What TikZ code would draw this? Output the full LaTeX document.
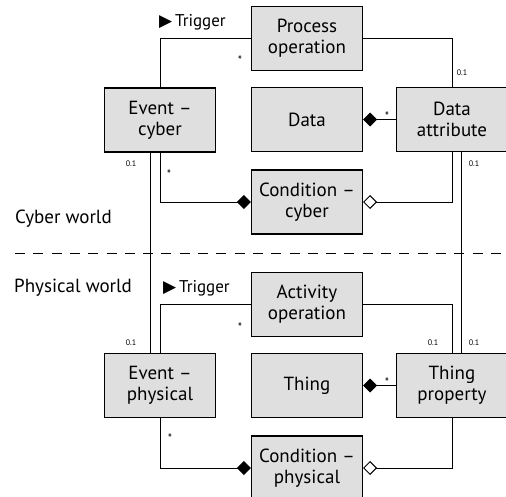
\documentclass[tikz,border=0pt]{standalone}
\usepackage{fontspec}
\setmainfont{PT Sans}
\newfontfamily\symfont{DejaVu Sans}
\usetikzlibrary{arrows.meta}

\begin{document}
\begin{tikzpicture}[x=1pt, y=-1pt, every node/.style={align=center}]
  % Define colors and styles
  \colorlet{classfill}{gray!25}
  \tikzset{
    classbox/.style={draw, line width=1.1pt, fill=classfill, minimum width=111pt,
      minimum height=64pt, inner sep=0pt, font=\fontsize{19}{21}\selectfont},
    assoc/.style={line width=1pt},
    compose/.style={assoc, -{Diamond[length=14pt, width=14pt]}},
    aggregate/.style={assoc, -{Diamond[open, length=14pt, width=14pt, fill=white]}},
    mult/.style={font=\fontsize{8}{9}\selectfont, inner sep=0pt},
    rolelabel/.style={anchor=west, font=\fontsize{17}{19}\selectfont, inner sep=0pt},
    worldlabel/.style={anchor=west, font=\fontsize{19}{21}\selectfont, inner sep=0pt}
  }
  \useasboundingbox (0,0) rectangle (506,496);
  \clip (0,0) rectangle (506,496);

  % Cyber world classes
  \node[classbox] (procop) at (307,38.5) {Process\\operation};
  \node[classbox] (evcyber) at (160,120) {Event --\\cyber};
  \node[classbox] (data) at (307,119.5) {Data};
  \node[classbox] (dattr) at (452,119.5) {Data\\attribute};
  \node[classbox] (condcyber) at (307,202) {Condition --\\cyber};

  % Physical world classes
  \node[classbox] (actop) at (307,304.5) {Activity\\operation};
  \node[classbox] (evphys) at (160,385.5) {Event --\\physical};
  \node[classbox] (thing) at (307,385.5) {Thing};
  \node[classbox] (thingprop) at (452,385.5) {Thing\\property};
  \node[classbox] (condphys) at (307,468) {Condition --\\physical};

  % Divider between the worlds
  \draw[line width=0.8pt, dash pattern=on 10pt off 8.3pt] (15,253) -- (506,253);
  \node[worldlabel] (cyberlbl) at (15,219) {Cyber world};
  \node[worldlabel] (physlbl) at (14,288) {Physical world};

  % Cyber world associations
  \draw[assoc] (procop.west) -| (evcyber.north);
  \draw[assoc] (procop.east) -| (dattr.north);
  \draw[compose] (dattr.west) -- (data.east);
  \draw[compose] (evcyber.south) |- (condcyber.west);
  \draw[aggregate] (dattr.south) |- (condcyber.east);

  % Physical world associations
  \draw[assoc] (actop.west) -| (evphys.north);
  \draw[assoc] (actop.east) -| (thingprop.north);
  \draw[compose] (thingprop.west) -- (thing.east);
  \draw[compose] (evphys.south) |- (condphys.west);
  \draw[aggregate] (thingprop.south) |- (condphys.east);

  % Links across the worlds
  \draw[assoc] ([xshift=-10pt]evcyber.south) -- ([xshift=-10pt]evphys.north);
  \draw[assoc] ([xshift=9pt]dattr.south) -- ([xshift=9pt]thingprop.north);

  % Role names
  \node[rolelabel] (trigcyber) at (159,22) {{\symfont\fontsize{17}{18}\selectfont ▶}\,Trigger};
  \node[rolelabel] (trigphys) at (163,288) {{\symfont\fontsize{17}{18}\selectfont ▶}\,Trigger};

  % Multiplicities
  \node[mult] (m1) at (240,60) {\large *};
  \node[mult] (m2) at (462,73) {0.1};
  \node[mult] (m3) at (387,116) {\large *};
  \node[mult] (m4) at (131,164) {0.1};
  \node[mult] (m5) at (169,174) {\large *};
  \node[mult] (m6) at (474,164) {0.1};
  \node[mult] (m7) at (240,327) {\large *};
  \node[mult] (m8) at (131,343) {0.1};
  \node[mult] (m9) at (433,343) {0.1};
  \node[mult] (m10) at (474,343) {0.1};
  \node[mult] (m11) at (387,382) {\large *};
  \node[mult] (m12) at (170,438) {\large *};
\end{tikzpicture}
\end{document}
